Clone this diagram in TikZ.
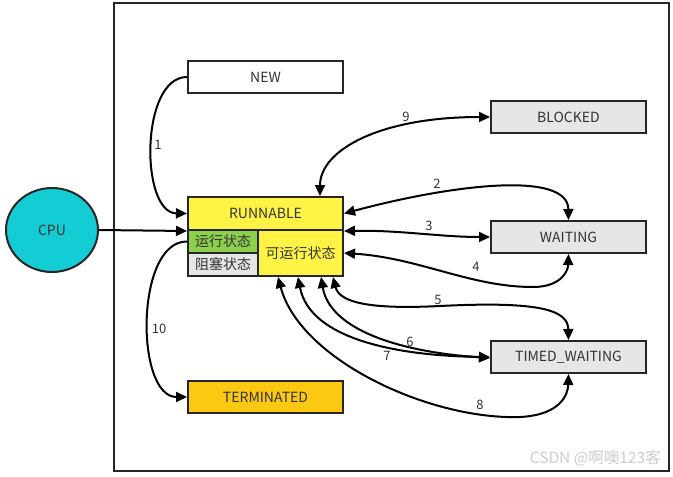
\documentclass[tikz,border=0pt]{standalone}
\usepackage{fontspec}
\setmainfont{Noto Sans CJK SC}
\usetikzlibrary{arrows.meta,shapes.geometric}
\definecolor{bordc}{HTML}{262626}
\definecolor{txtc}{HTML}{333333}
\definecolor{runy}{HTML}{FFF345}
\definecolor{rung}{HTML}{8CCF4D}
\definecolor{grayf}{HTML}{E6E6E6}
\definecolor{termc}{HTML}{FDC812}
\definecolor{cpuc}{HTML}{14CCD3}
\tikzset{
  box/.style={draw=bordc, line width=2pt, rectangle, minimum width=155pt, minimum height=32pt, inner sep=0pt, text=txtc, font=\fontsize{14}{16}\selectfont},
  sub/.style={draw=bordc, line width=2pt, rectangle, inner sep=0pt, text=txtc, font=\fontsize{14}{16}\selectfont},
  conn/.style={line width=2pt, black},
  tip/.style={-{Triangle[length=11pt,width=10pt]}},
  tips/.style={{Triangle[length=11pt,width=10pt]}-{Triangle[length=11pt,width=10pt]}},
  lab/.style={text=txtc, font=\fontsize{13}{15}\selectfont, inner sep=1pt}
}
\begin{document}
\begin{tikzpicture}[x=1pt,y=-1pt]
\useasboundingbox (0,0) rectangle (673,477);
\node[draw=bordc, line width=2pt, minimum width=555pt, minimum height=468pt, inner sep=0pt] (outer) at (391.5,237) {};
\node[box, fill=white] (new) at (265.5,77) {NEW};
\node[box, fill=grayf] (blocked) at (568.5,117) {BLOCKED};
\node[box, fill=runy, minimum height=33pt] (run) at (265.5,213.5) {RUNNABLE};
\node[sub, fill=rung, minimum width=70pt, minimum height=23pt] (s1) at (223,241.5) {运行状态};
\node[sub, fill=grayf, minimum width=70pt, minimum height=23pt] (s2) at (223,264.5) {阻塞状态};
\node[sub, fill=runy, minimum width=85pt, minimum height=46pt] (s3) at (300.5,253) {可运行状态};
\node[box, fill=grayf] (waiting) at (568.5,237) {WAITING};
\node[box, fill=grayf] (tw) at (568.5,357) {TIMED\_WAITING};
\node[box, fill=termc] (term) at (265.5,397) {TERMINATED};
\node[ellipse, draw=bordc, line width=2pt, fill=cpuc, minimum width=92pt, minimum height=84pt, inner sep=0pt, text=txtc, font=\fontsize{14}{16}\selectfont] (cpu) at (52,230) {CPU};
\node[text=gray!40, font=\fontsize{15.5}{17}\selectfont, anchor=east, inner sep=0pt] (wm) at (661,458) {CSDN @啊噢123客};

% 1
\draw[conn, tip] (new.west) .. controls (140,77) and (140,213) .. (run.west);
\node[lab] (l1) at (158,145) {1};
% CPU
\draw[conn, tip] (cpu.east) -- (run.south west);
% 10
\draw[conn, tip] (s1.west) .. controls (135,241) and (135,397) .. (term.west);
\node[lab] (l10) at (159,329) {10};
% 9
\draw[conn, tips] ([xshift=54.5pt]run.north) .. controls (320,150) and (380,117) .. (blocked.west);
\node[lab] (l9) at (406,117) {9};
% 2
\draw[conn, tips] (run.east) .. controls (450,185) and (568,170) .. (waiting.north);
\node[lab] (l2) at (437,184) {2};
% 3
\draw[conn, tips] (run.south east) .. controls (400,230) and (440,237) .. (waiting.west);
\node[lab] (l3) at (429,226) {3};
% 4
\draw[conn, tips] (s3.east) .. controls (420,258) and (470,287) .. (533,287) .. controls (560,287) and (568,272) .. (waiting.south);
\node[lab] (l4) at (476,267) {4};
% 5
\draw[conn, tips] ([xshift=32.5pt]s3.south) .. controls (340,305) and (380,309) .. (440,306) .. controls (540,301) and (568,310) .. (tw.north);
\node[lab] (l5) at (438,300) {5};
% 6
\draw[conn, tips] ([xshift=20.5pt]s3.south) .. controls (330,330) and (400,352) .. ([yshift=-1pt]tw.west);
\node[lab] (l6) at (410,342) {6};
% 7
\draw[conn, tips] ([xshift=-2.5pt]s3.south) .. controls (310,340) and (400,356) .. (tw.west);
\node[lab] (l7) at (387,356) {7};
% 8
\draw[conn, tips] ([xshift=-22.5pt]s3.south) .. controls (300,360) and (430,420) .. (520,417) .. controls (560,415) and (568,395) .. (tw.south);
\node[lab] (l8) at (480,405) {8};
\end{tikzpicture}
\end{document}
